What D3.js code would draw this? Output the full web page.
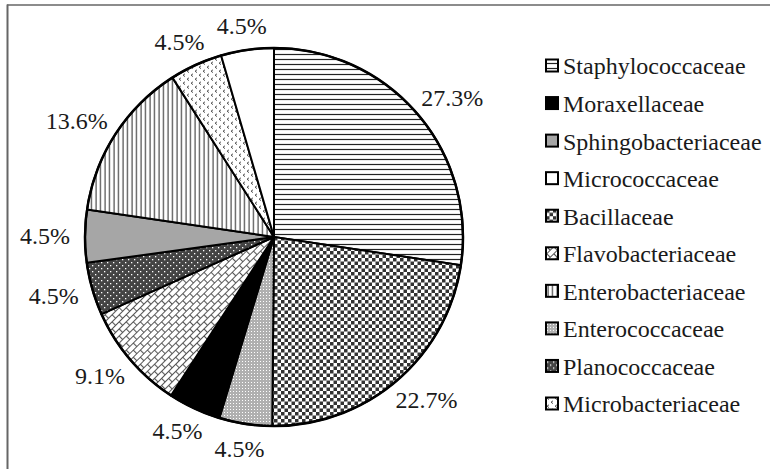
<!DOCTYPE html>
<html>
<head>
<meta charset="utf-8">
<script src="https://cdn.jsdelivr.net/npm/d3@7"></script>
<style>
  body { margin: 0; background: #fff; }
  svg { display: block; }
</style>
</head>
<body>
<svg id="chart" width="770" height="469"></svg>
<script>
// pie order, clockwise from 12 o'clock
const slices = ['Staphylococcaceae', 'Bacillaceae', 'Enterococcaceae', 'Moraxellaceae',
                'Flavobacteriaceae', 'Planococcaceae', 'Sphingobacteriaceae',
                'Enterobacteriaceae', 'Microbacteriaceae', 'Micrococcaceae'];
const percents = [27.3, 22.7, 4.5, 4.5, 9.1, 4.5, 4.5, 13.6, 4.5, 4.5];

// legend order
const legendNames = ['Staphylococcaceae', 'Moraxellaceae', 'Sphingobacteriaceae', 'Micrococcaceae',
                     'Bacillaceae', 'Flavobacteriaceae', 'Enterobacteriaceae', 'Enterococcaceae',
                     'Planococcaceae', 'Microbacteriaceae'];

const FONT = '"Liberation Serif", "Times New Roman", Times, "DejaVu Serif", serif';

const svg = d3.select('#chart');
const defs = svg.append('defs');

// fill patterns (black & white print style)
function pattern(id, w, h, draw, transform) {
    let p = defs.append('pattern')
        .attr('id', id)
        .attr('patternUnits', 'userSpaceOnUse')
        .attr('width', w)
        .attr('height', h);
    if (transform) p.attr('patternTransform', transform);
    draw(p);
}

pattern('p-hlines', 6, 5, p => {
    p.append('rect').attr('width', 6).attr('height', 5).attr('fill', '#fff');
    p.append('line').attr('x1', 0).attr('x2', 6).attr('y1', 2.5).attr('y2', 2.5)
        .attr('stroke', '#222').attr('stroke-width', 1.2);
});
pattern('p-check', 7, 7, p => {
    p.append('rect').attr('width', 7).attr('height', 7).attr('fill', '#fff');
    p.append('rect').attr('x', 0).attr('y', 0).attr('width', 3.5).attr('height', 3.5).attr('fill', '#333');
    p.append('rect').attr('x', 3.5).attr('y', 3.5).attr('width', 3.5).attr('height', 3.5).attr('fill', '#333');
});
pattern('p-finedots', 3, 3, p => {
    p.append('rect').attr('width', 3).attr('height', 3).attr('fill', '#b0b0b0');
    p.append('rect').attr('x', 1).attr('y', 1).attr('width', 1).attr('height', 1).attr('fill', '#fff');
});
pattern('p-brick', 10, 10, p => {
    p.append('rect').attr('width', 10).attr('height', 10).attr('fill', '#fff');
    p.append('path')
        .attr('d', 'M0,0.5H10M0,5.5H10M0.5,0.5V5.5M5.5,5.5V10')
        .attr('stroke', '#555').attr('stroke-width', 1.1).attr('fill', 'none');
}, 'rotate(-45)');
pattern('p-darkdots', 6, 6, p => {
    p.append('rect').attr('width', 6).attr('height', 6).attr('fill', '#444');
    p.append('rect').attr('x', 1).attr('y', 1).attr('width', 1.3).attr('height', 1.3).attr('fill', '#fff');
    p.append('rect').attr('x', 4).attr('y', 4).attr('width', 1.3).attr('height', 1.3).attr('fill', '#fff');
});
pattern('p-vlines', 4.5, 6, p => {
    p.append('rect').attr('width', 4.5).attr('height', 6).attr('fill', '#fff');
    p.append('line').attr('x1', 2).attr('x2', 2).attr('y1', 0).attr('y2', 6)
        .attr('stroke', '#222').attr('stroke-width', 1);
});
pattern('p-chevron', 8, 8, p => {
    p.append('rect').attr('width', 8).attr('height', 8).attr('fill', '#fff');
    p.append('path')
        .attr('d', 'M3,0.8L1,2.2L3,3.6M7,4.8L5,6.2L7,7.6')
        .attr('stroke', '#555').attr('stroke-width', 1).attr('fill', 'none');
});

const fills = {
    'Staphylococcaceae': 'url(#p-hlines)',
    'Bacillaceae': 'url(#p-check)',
    'Enterococcaceae': 'url(#p-finedots)',
    'Moraxellaceae': '#000',
    'Flavobacteriaceae': 'url(#p-brick)',
    'Planococcaceae': 'url(#p-darkdots)',
    'Sphingobacteriaceae': '#a6a6a6',
    'Enterobacteriaceae': 'url(#p-vlines)',
    'Microbacteriaceae': 'url(#p-chevron)',
    'Micrococcaceae': '#fff'
};

// frame (top and left edges only, as in the source)
svg.append('line').attr('x1', 7).attr('x2', 770).attr('y1', 5).attr('y2', 5)
    .attr('stroke', '#666').attr('stroke-width', 1.5);
svg.append('line').attr('x1', 7.5).attr('x2', 7.5).attr('y1', 4.5).attr('y2', 469)
    .attr('stroke', '#666').attr('stroke-width', 2);

const cx = 274, cy = 237, radius = 189, labelRadius = 204;

const data = slices.map((name, i) => ({ name: name, value: percents[i] }));

const pie = d3.pie().sort(null).value(d => d.value);
const arc = d3.arc().innerRadius(0).outerRadius(radius);

const g = svg.append('g').attr('transform', 'translate(' + cx + ',' + cy + ')');

g.selectAll('.slice')
    .data(pie(data))
    .enter().append('path')
    .attr('class', 'slice')
    .attr('d', arc)
    .attr('fill', d => fills[d.data.name])
    .attr('stroke', '#000')
    .attr('stroke-width', 2)
    .attr('stroke-linejoin', 'round');

g.append('circle').attr('r', radius)
    .attr('fill', 'none').attr('stroke', '#000').attr('stroke-width', 2.5);

// labels sit just outside the rim, pushed out by half their own box
g.selectAll('.label')
    .data(pie(data))
    .enter().append('text')
    .attr('class', 'label')
    .attr('font-family', FONT)
    .attr('font-size', 24)
    .attr('fill', '#1a1a1a')
    .attr('text-anchor', 'middle')
    .attr('dy', '0.35em')
    .text(d => d.data.value.toFixed(1) + '%')
    .each(function(d) {
        let a = (d.startAngle + d.endAngle) / 2;
        let ux = Math.sin(a), uy = -Math.cos(a);
        let hw = this.getBBox().width / 2, hh = 10;
        let x = ux * labelRadius + ux * hw;
        let y = uy * labelRadius + uy * hh;
        d3.select(this).attr('transform', 'translate(' + x + ',' + y + ')');
    });

// legend
const ly = d3.scalePoint().domain(legendNames).range([66, 404]);
const legend = svg.append('g').attr('class', 'legend');

let items = legend.selectAll('.item').data(legendNames).enter()
    .append('g')
    .attr('class', 'item')
    .attr('transform', d => 'translate(546,' + ly(d) + ')');

items.append('rect')
    .attr('x', 0).attr('y', -6.5)
    .attr('width', 12).attr('height', 12)
    .attr('fill', d => fills[d])
    .attr('stroke', '#000').attr('stroke-width', 2);

items.append('text')
    .attr('x', 17)
    .attr('dy', '0.35em')
    .attr('font-family', FONT)
    .attr('font-size', 24)
    .attr('fill', '#1a1a1a')
    .text(d => d);
</script>
</body>
</html>
